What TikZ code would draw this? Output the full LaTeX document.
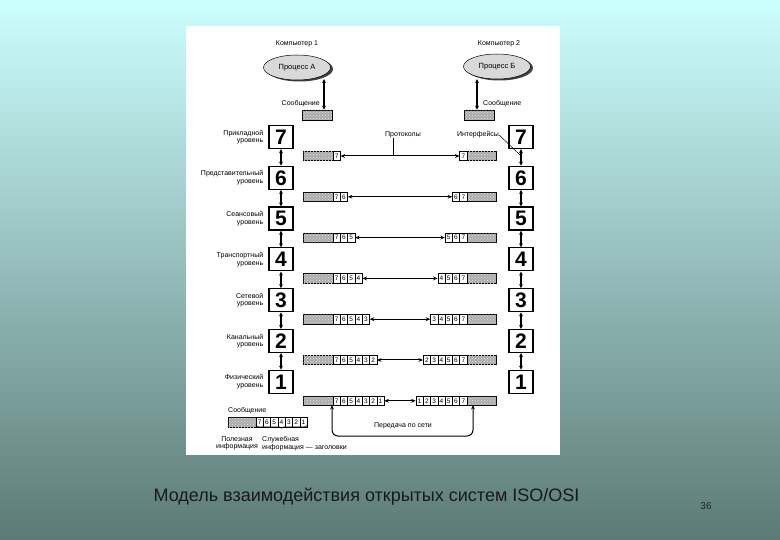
\documentclass[tikz,border=0pt]{standalone}
\usepackage{fontspec}
\setmainfont{Liberation Sans}
\usetikzlibrary{arrows.meta,patterns,decorations.pathreplacing,shapes.geometric}
\definecolor{bgtop}{RGB}{204,255,255}
\definecolor{bgbot}{RGB}{92,122,118}
\begin{document}
\begin{tikzpicture}[x=1pt,y=-1pt,
  lbl/.style={font=\fontsize{7}{7.5}\selectfont, align=right, inner sep=0pt},
  layer/.style={draw, line width=1.2pt, fill=white, minimum width=24pt, minimum height=23pt, inner sep=0pt, font=\fontsize{21}{21}\selectfont\bfseries},
  data/.style={draw, line width=0.5pt, fill=gray!65, postaction={pattern=crosshatch dots, pattern color=gray!25}, minimum height=9.5pt, inner sep=0pt},
  cell/.style={draw, line width=0.5pt, fill=white, minimum width=7.3pt, minimum height=9.5pt, inner sep=0pt, font=\fontsize{6.5}{6.5}\selectfont},
  harr/.style={{Stealth[length=4.5pt,width=3.8pt]}-{Stealth[length=4.5pt,width=3.8pt]}, line width=1pt},
  varr/.style={{Stealth[length=4pt,width=3.8pt]}-{Stealth[length=4pt,width=3.8pt]}, line width=1.2pt},
  proc/.style={ellipse, draw, line width=0.5pt, fill=gray!30, minimum width=67pt, minimum height=25pt, inner sep=0pt, font=\fontsize{7.5}{7.5}\selectfont}
]
\useasboundingbox (0,0) rectangle (780,540);
\shade[top color=bgtop, bottom color=bgbot] (0,0) rectangle (780,540);
\fill[white] (186,26) rectangle (560,455);

% computers and processes
\node[font=\fontsize{7}{7}\selectfont] (c1) at (297,44) {Компьютер 1};
\node[font=\fontsize{7}{7}\selectfont] (c2) at (499,44) {Компьютер 2};
\node[proc, fill=black!75, draw=none] (pAs) at (299.5,69) {};
\node[proc] (pA) at (297,67.5) {Процесс А};
\node[proc, fill=black!75, draw=none] (pBs) at (499.5,68) {};
\node[proc] (pB) at (497,66.5) {Процесс Б};
\node[data, minimum width=30pt, minimum height=10pt] (mA) at (317,115) {};
\node[data, minimum width=30pt, minimum height=10pt] (mB) at (479,115) {};
\coordinate (aT) at (324,79);
\coordinate (bT) at (477,79);
\draw[varr] (aT) -- (aT |- mA.north);
\draw[varr] (bT) -- (bT |- mB.north);
\node[lbl, anchor=east] (sA) at (320,104) {Сообщение};
\node[lbl, anchor=west] (sB) at (483,104) {Сообщение};

% layers
\foreach \r/\nm in {7/Прикладной,6/Представительный,5/Сеансовый,4/Транспортный,3/Сетевой,2/Канальный,1/Физический} {
  \pgfmathsetmacro\yb{137+40.8*(7-\r)}
  \node[layer] (L\r) at (281,\yb) {\r};
  \node[layer] (R\r) at (521,\yb) {\r};
  \node[lbl, anchor=east] (N\r) at ([xshift=-5pt]L\r.west) {\nm\\уровень};
}
\foreach \r in {7,...,2} {
  \pgfmathtruncatemacro\s{\r-1}
  \draw[varr] (L\r.south) -- (L\s.north);
  \draw[varr] (R\r.south) -- (R\s.north);
}

% packets
\foreach \r in {7,...,1} {
  \pgfmathsetmacro\yp{156+40.8*(7-\r)}
  \pgfmathtruncatemacro\n{7-\r}
  \node[data, minimum width=30pt] (LD\r) at (318,\yp) {};
  \foreach \k in {0,...,\n} {
    \pgfmathtruncatemacro\lab{7-\k}
    \node[cell] (LC\r-\k) at ({333+7.3*\k+3.65},\yp) {\lab};
  }
  \node[data, minimum width=29pt] (RD\r) at (481.5,\yp) {};
  \foreach \k in {0,...,\n} {
    \pgfmathtruncatemacro\lab{\r+\k}
    \node[cell] (RC\r-\k) at ({467-7.3*(\n+1)+7.3*\k+3.65},\yp) {\lab};
  }
  \draw[harr] (LC\r-\n.east) -- (RC\r-0.west);
}

% protocols / interfaces
\node[lbl] (prot) at (403,135) {Протоколы};
\coordinate (pt) at (393,156);
\draw[line width=0.6pt] (pt |- prot.south) -- (pt);
\node[lbl] (intf) at (478,135) {Интерфейсы};
\coordinate (it) at (520,155);
\draw[line width=0.5pt] (intf.east) -- (it);

% network transfer
\coordinate (nL) at (332,405);
\coordinate (nR) at (473,405);
\coordinate (nB) at (403,436);
\draw[harr, rounded corners=6pt] (nL) |- (nB) -| (nR);
\node[lbl] (net) at (403,426) {Передача по сети};

% legend
\node[lbl, anchor=west] (lm) at (228,411) {Сообщение};
\node[data, minimum width=28pt, minimum height=10pt] (GD) at (242,422) {};
\foreach \k in {0,...,6} {
  \pgfmathtruncatemacro\lab{7-\k}
  \node[cell, minimum height=10pt] (G\k) at ({256+7.3*\k+3.65},422) {\lab};
}
\draw[line width=0.5pt, decorate, decoration={brace, mirror, amplitude=3pt}] ([yshift=2pt]G0.south west) -- ([yshift=2pt]G6.south east);
\node[lbl, align=center] (useful) at (237,443.5) {Полезная\\информация};
\node[lbl, align=left, anchor=west] (serv) at (262,443.5) {Служебная\\информация — заголовки};

% caption
\node[font=\fontsize{18}{18}\selectfont, text=black!90] (cap) at (366.5,497) {Модель взаимодействия открытых систем ISO/OSI};
\node[font=\fontsize{10}{10}\selectfont, text=black!85] (pg) at (706,506) {36};
\end{tikzpicture}
\end{document}
